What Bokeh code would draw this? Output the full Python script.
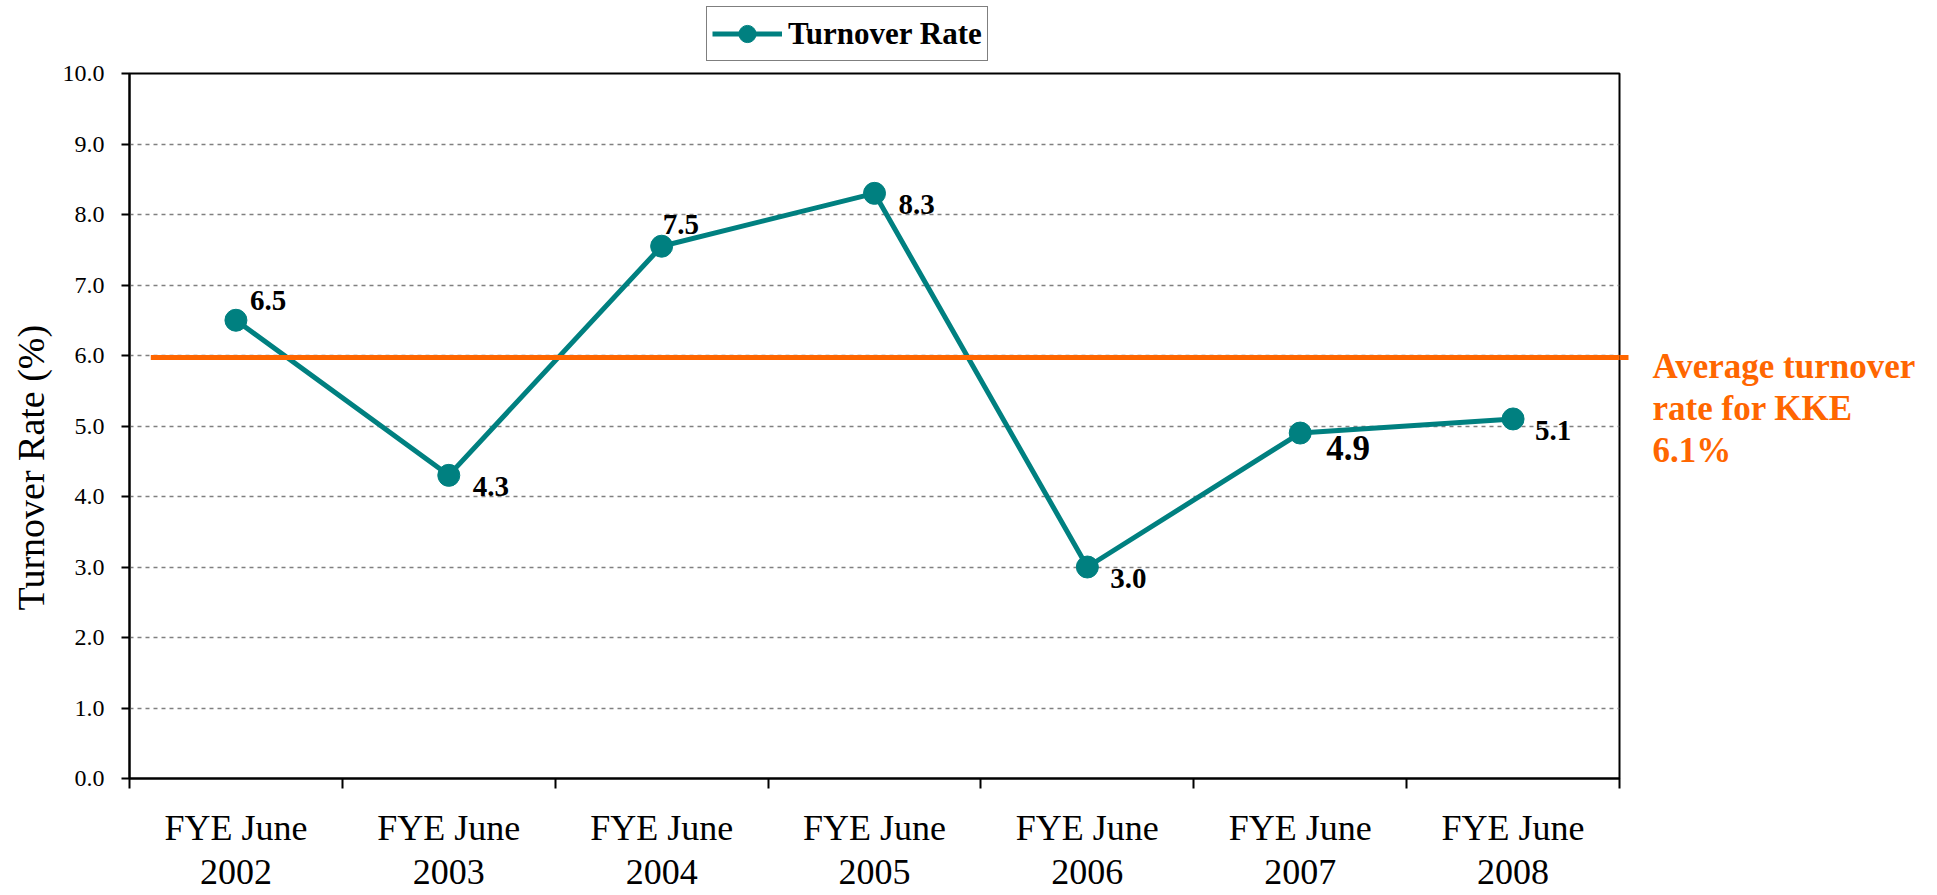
from bokeh.plotting import figure
from bokeh.layouts import column
from bokeh.models import (ColumnDataSource, FixedTicker, Legend, LegendItem, Title,
                          Arrow, LinearAxis, Range1d, NumeralTickFormatter)
from bokeh.core.properties import value
from bokeh.embed import file_html
from bokeh.resources import INLINE

# ---- data ----
categories = ["FYE June\n2002", "FYE June\n2003", "FYE June\n2004", "FYE June\n2005",
              "FYE June\n2006", "FYE June\n2007", "FYE June\n2008"]
turnover = [6.5, 4.3, 7.55, 8.3, 3.0, 4.9, 5.1]
value_labels = ["6.5", "4.3", "7.5", "8.3", "3.0", "4.9", "5.1"]
average_line = 5.97
average_text = "Average turnover\nrate for KKE\n6.1%"
y_ticks = [0, 1, 2, 3, 4, 5, 6, 7, 8, 9, 10]
series_name = "Turnover Rate"
y_title = "Turnover Rate (%)"

# ---- label placement (screen px) ----
label_dx = [14, 24, 1, 24, 23, 26, 22]
label_dy = [-20, 11, -22, 11, 11, 15, 12]
label_size = ["29px", "29px", "29px", "29px", "29px", "35px", "29px"]

FONT = "Liberation Serif"
TEAL = "#008080"
ORANGE = "#FF6600"

W = 1929
TOP_H = 61            # strip holding the legend
MAIN_H = 833
FRAME_L, FRAME_R = 127, 1619
FRAME_T, FRAME_B = 73 - TOP_H, 779 - TOP_H
frame_h = FRAME_B - FRAME_T

n = len(categories)
xs = [i + 0.5 for i in range(n)]
y_max = y_ticks[-1]

src = ColumnDataSource(dict(x=xs, y=turnover, lbl=value_labels, dx=label_dx, dy=label_dy, size=label_size))

# ---------------- legend strip ----------------
# (same series drawn in a strip whose y-range holds none of it: only its legend shows)
top = figure(width=W, height=TOP_H, output_backend="svg", toolbar_location=None,
             x_axis_location=None, y_axis_location=None,
             x_range=Range1d(0, n), y_range=Range1d(y_max + 1, y_max + 2), min_border=0)
top.outline_line_color = None
top.grid.grid_line_color = None
top.background_fill_color = "white"
top.border_fill_color = "white"
lr0 = top.line("x", "y", source=src, line_color=TEAL, line_width=5)
sr0 = top.scatter("x", "y", source=src, size=22, fill_color=TEAL, line_color=TEAL)
legend = Legend(items=[LegendItem(label=series_name, renderers=[lr0, sr0])],
                location=(704 - FRAME_L, 0), orientation="horizontal")
legend.label_text_font = FONT
legend.label_text_font_size = "31px"
legend.label_text_font_style = "bold"
legend.label_text_color = "black"
legend.border_line_color = "black"
legend.border_line_width = 1.5
legend.background_fill_color = "white"
legend.background_fill_alpha = 1
legend.glyph_width = 70
legend.glyph_height = 43
legend.padding = 5
legend.margin = 0
legend.label_standoff = 6
top.add_layout(legend, "center")

# ---------------- main chart ----------------
p = figure(width=W, height=MAIN_H, output_backend="svg", toolbar_location=None,
           x_range=Range1d(0, n), y_range=Range1d(0, y_max),
           min_border_left=FRAME_L, min_border_right=W - FRAME_R,
           min_border_top=FRAME_T, min_border_bottom=MAIN_H - FRAME_B)
p.background_fill_color = "white"
p.border_fill_color = "white"
p.outline_line_color = "black"
p.outline_line_width = 2

# grid
p.xgrid.grid_line_color = None
p.ygrid.ticker = FixedTicker(ticks=y_ticks)
p.ygrid.grid_line_color = "#808080"
p.ygrid.grid_line_width = 1.5
p.ygrid.grid_line_dash = "4 4"

# y axis
ya = p.yaxis[0]
ya.ticker = FixedTicker(ticks=y_ticks)
ya.formatter = NumeralTickFormatter(format="0.0")
ya.major_label_text_font = FONT
ya.major_label_text_font_size = "24px"
ya.major_label_text_color = "black"
ya.major_tick_out = 8
ya.major_tick_in = 0
ya.minor_tick_line_color = None
ya.axis_line_width = 2
ya.major_tick_line_width = 2
ya.major_label_standoff = 17

# y title on the left panel
p.add_layout(Title(text=y_title, align="left", offset=168, standoff=15,
                   text_font=FONT, text_font_size="38px", text_font_style="normal",
                   text_color="black"), "left")

# x axis: boundary ticks, no labels
xa = p.xaxis[0]
xa.ticker = FixedTicker(ticks=list(range(n + 1)))
xa.major_label_text_font_size = "0px"
xa.major_label_standoff = 0
xa.major_tick_out = 10
xa.major_tick_in = 0
xa.minor_tick_line_color = None
xa.axis_line_width = 2
xa.major_tick_line_width = 2

# x axis: category labels at centres
la = LinearAxis(ticker=FixedTicker(ticks=xs),
                major_label_overrides={x: c for x, c in zip(xs, categories)})
la.axis_line_color = None
la.major_tick_line_color = None
la.minor_tick_line_color = None
la.major_label_text_font = FONT
la.major_label_text_font_size = "36px"
la.major_label_text_color = "black"
la.major_label_text_line_height = 1.11
la.major_label_standoff = 13
p.add_layout(la, "below")

# average line (inside frame) + its stub beyond the right border
p.add_layout(Arrow(end=None, x_start=0.1, x_end=n, y_start=average_line, y_end=average_line,
                   line_color=ORANGE, line_width=5))
stub = LinearAxis(ticker=FixedTicker(ticks=[average_line]),
                  major_label_overrides={average_line: ""})
stub.axis_line_color = None
stub.minor_tick_line_color = None
stub.major_tick_line_color = ORANGE
stub.major_tick_line_width = 5
stub.major_tick_out = 9
stub.major_tick_in = 0
stub.major_label_text_font_size = "0px"
stub.major_label_standoff = 0
p.add_layout(stub, "right")

# average annotation text, as the label of a right-hand axis
avg_label_y = average_line - 51 * y_max / frame_h
ra = LinearAxis(ticker=FixedTicker(ticks=[avg_label_y]),
                major_label_overrides={avg_label_y: average_text})
ra.axis_line_color = None
ra.major_tick_line_color = None
ra.minor_tick_line_color = None
ra.major_label_text_font = FONT
ra.major_label_text_font_size = "35px"
ra.major_label_text_font_style = "bold"
ra.major_label_text_color = ORANGE
ra.major_label_text_line_height = 1.07
ra.major_label_standoff = 18
p.add_layout(ra, "right")

# series
p.line("x", "y", source=src, line_color=TEAL, line_width=5)
p.scatter("x", "y", source=src, size=22, fill_color=TEAL, line_color=TEAL)
p.text("x", "y", text="lbl", source=src, x_offset="dx", y_offset="dy", text_font_size="size",
       text_font=value(FONT), text_font_style="bold", text_color="black",
       text_align="left", text_baseline="alphabetic")

layout = column(top, p, spacing=0)
open("out.html", "w").write(file_html(layout, INLINE))
